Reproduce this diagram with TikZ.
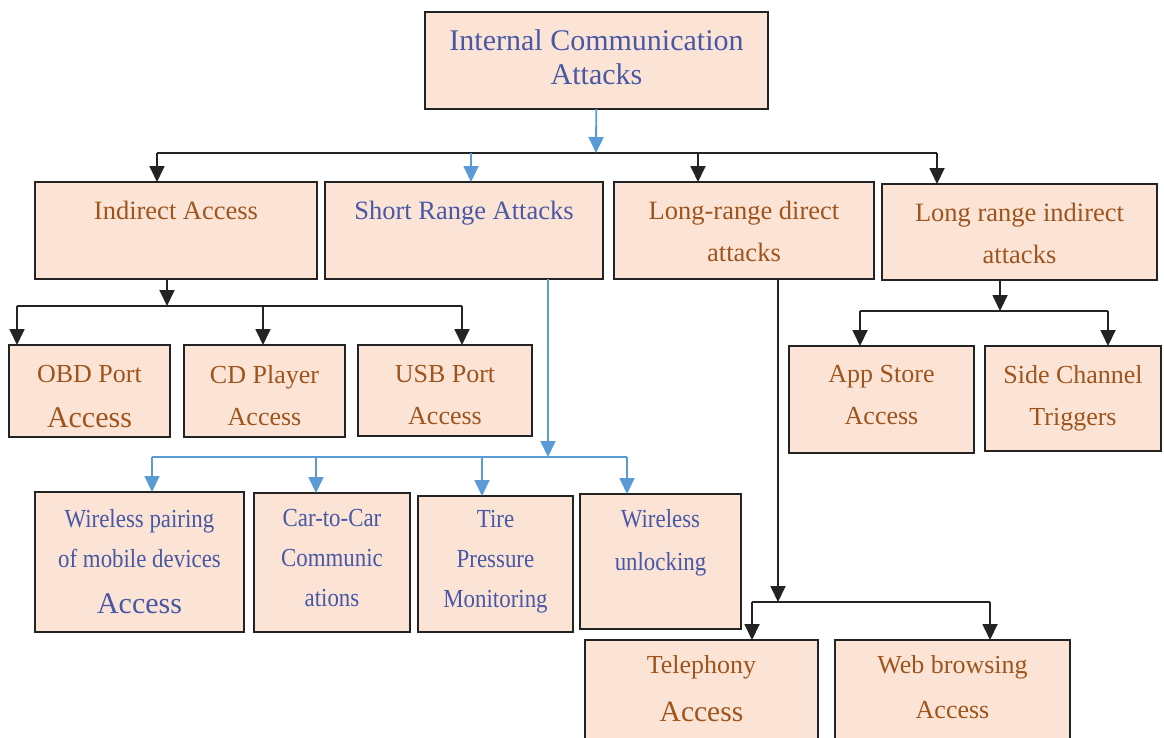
\documentclass[tikz,border=0pt]{standalone}
\usepackage{fontspec}
\setmainfont{Liberation Serif}
\newfontfamily\narrowserif[FakeStretch=0.88]{Liberation Serif}
\usetikzlibrary{arrows.meta}

\definecolor{peach}{RGB}{251,228,213}
\definecolor{inkblue}{RGB}{72,88,165}
\definecolor{inkbrown}{RGB}{158,84,28}
\definecolor{linkblue}{RGB}{91,155,213}
\definecolor{edge}{RGB}{35,35,35}

\tikzset{
  box/.style={draw=edge, line width=1.8pt, fill=peach, inner sep=0pt, outer sep=0pt},
  bluetxt/.style={text=inkblue},
  browntxt/.style={text=inkbrown},
  headfont/.style={font=\fontsize{30}{34}\selectfont},
  catfont/.style={font=\fontsize{26.5}{42}\selectfont},
  leaffont/.style={font=\fontsize{26}{#1}\selectfont},
  narrowfont/.style={font=\narrowserif\fontsize{26}{#1}\selectfont},
  wire/.style={draw=edge, line width=1.8pt},
  bwire/.style={draw=linkblue, line width=1.8pt},
  arr/.style={-{Triangle[length=16pt,width=15pt]}},
}

% box with top-aligned, centred text: style, name, x1, y1, x2, y2, top padding, text
\newcommand\tbox[8]{%
  \pgfmathsetmacro\bw{#5-#3}%
  \pgfmathsetmacro\bh{#6-#4}%
  \node[box,#1,anchor=north west] (#2) at (#3,#4)
    {\parbox[c][\bh pt][t]{\bw pt}{\centering\vspace*{#7pt}#8\par}};}

\newcommand\bigword[2]{{\rmfamily\fontsize{#1}{#1}\selectfont #2}}

\begin{document}
\begin{tikzpicture}[x=1pt,y=-1pt]
\useasboundingbox (0,0) rectangle (1164,737);
\clip (0,0) rectangle (1164,737);

% root
\tbox{headfont,bluetxt}{top}{425}{12}{768}{109}{18}{Internal Communication\\Attacks}

% categories
\tbox{catfont,browntxt}{ia}{35}{182}{317}{279}{19}{Indirect Access}
\tbox{catfont,bluetxt}{sr}{325}{182}{603}{279}{19}{Short Range Attacks}
\tbox{catfont,browntxt}{ld}{614}{182}{874}{279}{19}{Long-range direct\\attacks}
\tbox{catfont,browntxt}{li}{882}{184}{1157}{280}{19}{Long range indirect\\attacks}

% indirect access
\tbox{leaffont=45,browntxt}{obd}{9}{345}{170}{437}{20}{OBD Port\\\bigword{30}{Access}}
\tbox{leaffont=42,browntxt}{cd}{184}{345}{345}{437}{20}{CD Player\\Access}
\tbox{leaffont=42,browntxt}{usb}{358}{345}{532}{436}{20}{USB Port\\Access}

% long range indirect
\tbox{leaffont=42,browntxt}{app}{789}{346}{974}{453}{19}{App Store\\Access}
\tbox{leaffont=42,browntxt}{side}{985}{346}{1161}{451}{19}{Side Channel\\Triggers}

% short range
\tbox{narrowfont=40,bluetxt}{wp}{35}{492}{244}{632}{17}{Wireless pairing\\of mobile devices\\[6pt]\bigword{30}{Access}}
\tbox{narrowfont=40,bluetxt}{cc}{254}{493}{410}{632}{16}{Car-to-Car\\Communic\\ations}
\tbox{narrowfont=40,bluetxt}{tp}{418}{496}{573}{632}{14}{Tire\\Pressure\\Monitoring}
\tbox{narrowfont=43,bluetxt}{wu}{580}{494}{741}{629}{15}{Wireless\\unlocking}

% long range direct
\tbox{leaffont=48,browntxt}{tel}{585}{640}{818}{770}{15}{Telephony\\\bigword{29.5}{Access}}
\tbox{leaffont=45,browntxt}{web}{835}{640}{1070}{770}{15}{Web browsing\\Access}

% root to categories
\coordinate (m)  at (596,153);
\coordinate (mL) at (157,153);
\coordinate (mS) at (471,153);
\coordinate (mD) at (698,153);
\coordinate (mR) at (937,153);
\draw[wire] (mL) -- (mR);
\draw[bwire,arr] (top) -- (m);
\draw[wire,arr] (mL) -- (mL |- ia.north);
\draw[bwire,arr] (mS) -- (mS |- sr.north);
\draw[wire,arr] (mD) -- (mD |- ld.north);
\draw[wire,arr] (mR) -- (mR |- li.north);

% indirect access branch
\coordinate (iaB) at (167,306);
\coordinate (iaL) at (17,306);
\coordinate (iaM) at (263,306);
\coordinate (iaR) at (462,306);
\draw[wire,arr] (iaB |- ia.south) -- (iaB);
\draw[wire] (iaL) -- (iaR);
\draw[wire,arr] (iaL) -- (iaL |- obd.north);
\draw[wire,arr] (iaM) -- (iaM |- cd.north);
\draw[wire,arr] (iaR) -- (iaR |- usb.north);

% short range branch
\coordinate (srB) at (548,457);
\coordinate (sr1) at (152,457);
\coordinate (sr2) at (316,457);
\coordinate (sr3) at (482,457);
\coordinate (sr4) at (627,457);
\draw[bwire,arr] (srB |- sr.south) -- (srB);
\draw[bwire] (sr1) -- (sr4);
\draw[bwire,arr] (sr1) -- (sr1 |- wp.north);
\draw[bwire,arr] (sr2) -- (sr2 |- cc.north);
\draw[bwire,arr] (sr3) -- (sr3 |- tp.north);
\draw[bwire,arr] (sr4) -- (sr4 |- wu.north);

% long range direct branch
\coordinate (ldB) at (778,602);
\coordinate (ldL) at (752,602);
\coordinate (ldR) at (990,602);
\draw[wire,arr] (ldB |- ld.south) -- (ldB);
\draw[wire] (ldL) -- (ldR);
\draw[wire,arr] (ldL) -- (ldL |- tel.north);
\draw[wire,arr] (ldR) -- (ldR |- web.north);

% long range indirect branch
\coordinate (liB) at (1000,311);
\coordinate (liL) at (860,311);
\coordinate (liR) at (1108,311);
\draw[wire,arr] (liB |- li.south) -- (liB);
\draw[wire] (liL) -- (liR);
\draw[wire,arr] (liL) -- (liL |- app.north);
\draw[wire,arr] (liR) -- (liR |- side.north);
\end{tikzpicture}
\end{document}
